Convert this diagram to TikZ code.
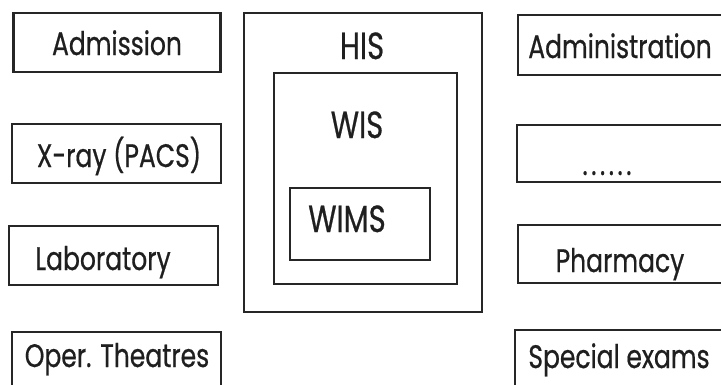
\documentclass[tikz,border=0pt]{standalone}
\usepackage{fontspec}
\setmainfont{Poppins}
\newfontfamily\lblfont[FakeBold=0.7]{Poppins}
\begin{document}
\begin{tikzpicture}[x=1pt,y=-1pt,
  box/.style={draw=black!85,line width=2.1pt,inner sep=0pt},
  lbl/.style={anchor=base,inner sep=0pt,text=black!88,yscale=1.3,font=\lblfont\fontsize{25}{30}\selectfont},
  biglbl/.style={lbl,font=\lblfont\fontsize{29}{34}\selectfont}]
\clip (0,0) rectangle (721,384);
\fill[white] (0,0) rectangle (721,384);
% left boxes
\node[box,minimum width=207,minimum height=59] (admbox) at (117,42.5) {};
\node[box,minimum width=209,minimum height=59] (xraybox) at (116.5,153.5) {};
\node[box,minimum width=209,minimum height=59] (labbox) at (113.5,255.5) {};
\node[box,minimum width=209,minimum height=80] (opbox) at (116.5,372) {};
\node[lbl] (adm) at (117,55) {Admission};
\node[lbl] (xray) at (119,167) {X-ray (PACS)};
\node[lbl] (lab) at (103,270) {Laboratory};
\node[lbl] (op) at (117,367) {Oper. Theatres};
% centre
\node[box,minimum width=238,minimum height=299] (hisbox) at (363,162.5) {};
\node[box,minimum width=183,minimum height=211] (wisbox) at (365.5,178.5) {};
\node[box,minimum width=140,minimum height=72] (wimsbox) at (360,224) {};
\node[biglbl] (his) at (362,59) {HIS};
\node[biglbl] (wis) at (357,138) {WIS};
\node[biglbl] (wims) at (347,232) {WIMS};
% right boxes
\node[box,minimum width=220,minimum height=60] (admibox) at (628,45) {};
\node[box,minimum width=220,minimum height=57] (dotbox) at (627,153.5) {};
\node[box,minimum width=220,minimum height=58] (pharmbox) at (628,254) {};
\node[box,minimum width=220,minimum height=80] (specbox) at (625,370) {};
\node[lbl] (admi) at (620,58) {Administration};
\node[lbl,font=\lblfont\fontsize{25}{30}\selectfont\addfontfeature{LetterSpace=14}] (dots) at (607,175) {......};
\node[lbl] (pharm) at (620,272) {Pharmacy};
\node[lbl] (spec) at (619,368) {Special exams};
\end{tikzpicture}
\end{document}
